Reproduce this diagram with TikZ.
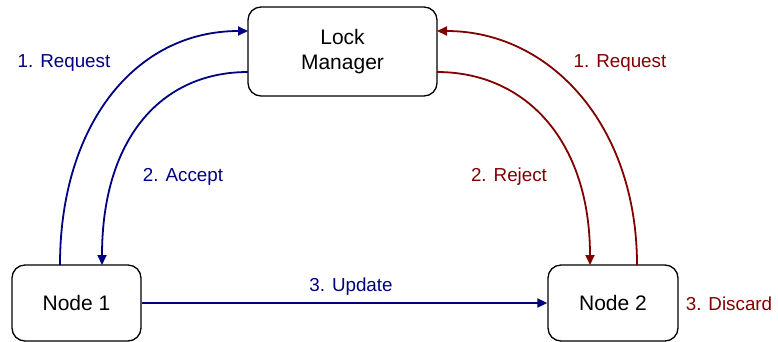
\documentclass[tikz,border=0pt]{standalone}
\usepackage{fontspec}
\setmainfont{Liberation Sans}
\usetikzlibrary{arrows.meta}
\definecolor{navyb}{RGB}{0,0,128}
\definecolor{darkr}{RGB}{128,0,0}
\begin{document}
\begin{tikzpicture}[x=1pt,y=-1pt,
  box/.style={draw=black,line width=1.3pt,rounded corners=13pt,fill=white,inner sep=0pt,font=\fontsize{21}{25}\selectfont,align=center},
  conn/.style={line width=1.8pt,-{Triangle[length=10pt,width=9pt]}},
  lbl/.style={font=\fontsize{18.8}{22}\selectfont,inner sep=0pt}]
\useasboundingbox (0,0) rectangle (778,341);
\node[box,minimum width=189pt,minimum height=89pt] (lm) at (342.5,51.5) {Lock\\Manager};
\node[box,minimum width=129pt,minimum height=76pt] (n1) at (76.5,303) {Node 1};
\node[box,minimum width=130pt,minimum height=76pt] (n2) at (613,303) {Node 2};
\coordinate (n1a) at (60,265);
\coordinate (n1b) at (102,265);
\coordinate (n2a) at (637,265);
\coordinate (n2b) at (590,265);
\coordinate (lml1) at (248,31);
\coordinate (lml2) at (248,72);
\coordinate (lmr1) at (437,31);
\coordinate (lmr2) at (437,72);
\draw[conn,navyb] (n1a) .. controls (60,125) and (135,31) .. (lml1);
\draw[conn,navyb] (lml2) .. controls (160,72) and (102,140) .. (n1b);
\draw[conn,darkr] (n2a) .. controls (637,125) and (550,31) .. (lmr1);
\draw[conn,darkr] (lmr2) .. controls (525,72) and (590,140) .. (n2b);
\draw[conn,navyb] (n1.east) -- (n2.west);
\node[lbl,text=navyb] (l1) at (64,62.5) {1. Request};
\node[lbl,text=navyb] (l2) at (183,176.5) {2. Accept};
\node[lbl,text=navyb] (l3) at (351,286.5) {3. Update};
\node[lbl,text=darkr] (l4) at (620,62.5) {1. Request};
\node[lbl,text=darkr] (l5) at (509,176.5) {2. Reject};
\node[lbl,text=darkr] (l6) at (729,303.5) {3. Discard};
\end{tikzpicture}
\end{document}
